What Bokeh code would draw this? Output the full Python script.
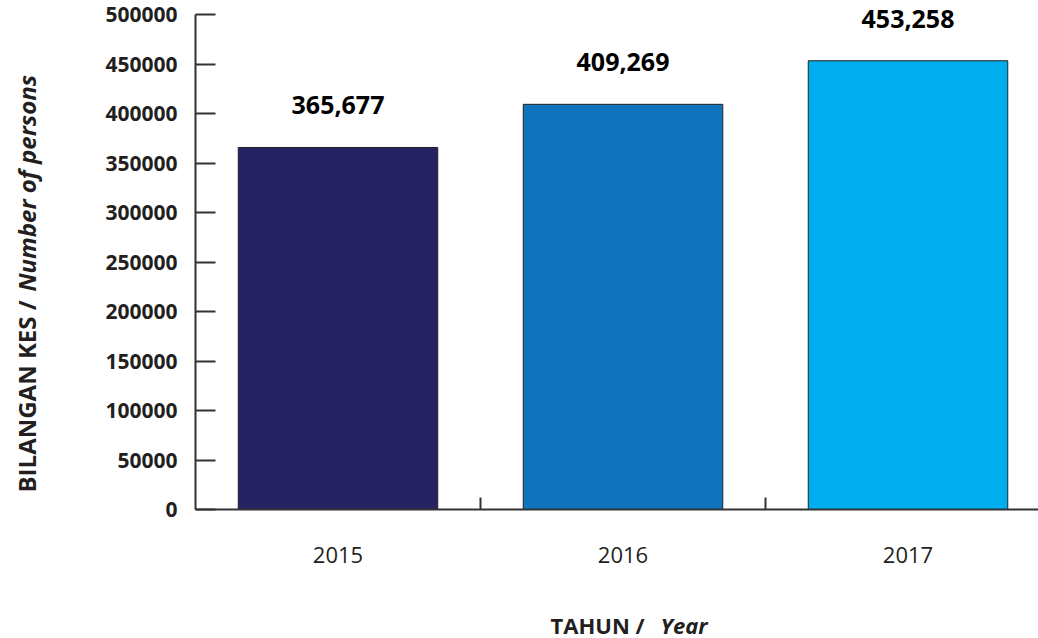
import math
from bokeh.plotting import figure
from bokeh.layouts import column, row
from bokeh.models import (Range1d, FixedTicker, ColumnDataSource, LabelSet,
                          BasicTickFormatter)
from bokeh.core.properties import value
from bokeh.embed import file_html
from bokeh.resources import INLINE

# ---- data ----
years = ["2015", "2016", "2017"]
cases = [365677, 409269, 453258]
case_labels = ["365,677", "409,269", "453,258"]
bar_colors = ["#262262", "#1074bc", "#00aeef"]
y_ticks = [0, 50000, 100000, 150000, 200000, 250000, 300000, 350000, 400000, 450000, 500000]
y_title_parts = ["BILANGAN KES /", "Number of persons"]
x_title_parts = ["TAHUN /", "Year"]
title_styles = ["bold", "bold italic"]

FONT = "Open Sans"
TXT = "#231f20"

W, H = 1038, 638
YT_W = 45          # width of the strip holding the y title
MAIN_H = 600       # height of the main chart
FRAME_LEFT, FRAME_BOTTOM = 195, 509   # target frame position on the page

xs = [i + 0.5 for i in range(len(years))]
bounds = [i + 1 for i in range(len(years) - 1)]

PX_PER_CAT = 285.0
PX_PER_UNIT_Y = 495.0 / 500000.0

main_w = W - YT_W
x_end = (W - FRAME_LEFT) / PX_PER_CAT
y_end = FRAME_BOTTOM / PX_PER_UNIT_Y

p = figure(width=main_w, height=MAIN_H, output_backend="svg", toolbar_location=None,
           x_range=Range1d(0, x_end), y_range=Range1d(0, y_end),
           min_border_left=FRAME_LEFT - YT_W, min_border_right=0, min_border_top=0,
           min_border_bottom=MAIN_H - FRAME_BOTTOM)
p.outline_line_color = None
p.xgrid.visible = False
p.ygrid.visible = False

src = ColumnDataSource(dict(x=xs, top=cases, color=bar_colors, label=case_labels))
p.vbar(x="x", top="top", width=0.7, source=src, fill_color="color",
       line_color="#231f20", line_width=1)

labels = LabelSet(x="x", y="top", text="label", source=src, y_offset=42,
                  text_align="center", text_baseline="middle",
                  text_font=value(FONT), text_font_style="bold", text_font_size="25px",
                  text_color="#000000")
p.add_layout(labels)

# y axis
ya = p.yaxis[0]
ya.ticker = FixedTicker(ticks=y_ticks, minor_ticks=[])
ya.formatter = BasicTickFormatter(use_scientific=False)
ya.bounds = (0, 500000)
ya.major_tick_in = 20
ya.major_tick_out = 0
ya.minor_tick_in = 0
ya.minor_tick_out = 0
ya.axis_line_color = "#333333"
ya.axis_line_width = 2
ya.major_tick_line_color = "#333333"
ya.major_tick_line_width = 2
ya.major_label_text_font = FONT
ya.major_label_text_font_size = "21px"
ya.major_label_text_font_style = "bold"
ya.major_label_text_color = TXT
ya.major_label_standoff = 18

# x axis
xa = p.xaxis[0]
xa.ticker = FixedTicker(ticks=xs, minor_ticks=bounds)
xa.major_label_overrides = {x: y for x, y in zip(xs, years)}
xa.major_tick_in = 0
xa.major_tick_out = 0
xa.minor_tick_in = 12
xa.minor_tick_out = 0
xa.minor_tick_line_color = "#333333"
xa.minor_tick_line_width = 2
xa.axis_line_color = "#333333"
xa.axis_line_width = 2
xa.major_label_text_font = FONT
xa.major_label_text_font_size = "22px"
xa.major_label_text_color = TXT
xa.major_label_standoff = 37

# ---- y title strip (pixel coordinates) ----
yt = figure(frame_width=YT_W, frame_height=MAIN_H, output_backend="svg",
            toolbar_location=None,
            x_range=Range1d(0, YT_W), y_range=Range1d(0, MAIN_H),
            x_axis_location=None, y_axis_location=None, title=None,
            min_border=0)
yt.outline_line_color = None
yt.xgrid.visible = False
yt.ygrid.visible = False
yt_src = ColumnDataSource(dict(x=[26, 26], y=[MAIN_H - 492, MAIN_H - 291],
                               text=y_title_parts, style=title_styles))
yt.text(x="x", y="y", text="text", source=yt_src, angle=math.pi / 2,
        text_align="left", text_baseline="middle", text_font=value(FONT),
        text_font_size="24px", text_font_style="style", text_color=TXT)

# ---- x title strip (pixel coordinates) ----
XT_H = H - MAIN_H
xt = figure(frame_width=W, frame_height=XT_H, output_backend="svg",
            toolbar_location=None,
            x_range=Range1d(0, W), y_range=Range1d(0, XT_H),
            x_axis_location=None, y_axis_location=None, title=None,
            min_border=0)
xt.outline_line_color = None
xt.xgrid.visible = False
xt.ygrid.visible = False
xt_src = ColumnDataSource(dict(x=[550, 660], y=[H - 624, H - 624],
                               text=x_title_parts, style=title_styles))
xt.text(x="x", y="y", text="text", source=xt_src,
        text_align="left", text_baseline="middle", text_font=value(FONT),
        text_font_size="22px", text_font_style="style", text_color=TXT)

layout = column(row(yt, p, spacing=0), xt, spacing=0)
open("out.html", "w").write(file_html(layout, INLINE))
